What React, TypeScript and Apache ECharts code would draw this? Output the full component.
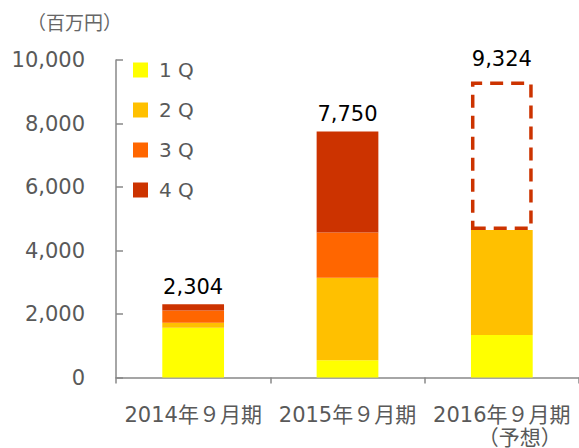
import React, { useEffect, useRef } from "react";
import * as echarts from "echarts";

const categories = ["2014年９月期", "2015年９月期", "2016年９月期"];
const q1 = [1567, 542, 1335];
const q2 = [157, 2601, 3313];
const q3 = [385, 1420, null];
const q4 = [195, 3187, null];
const totals = [2304, 7750, null];
const forecastTotal = 9324;
const forecastIndex = 2;
const seriesNames = ["1 Q", "2 Q", "3 Q", "4 Q"];
const colors = ["#FFFF00", "#FFC000", "#FF6600", "#CC3300"];
const yTicks = { min: 0, max: 10000, interval: 2000 };

const FONT = "'DejaVu Sans', 'Noto Sans CJK JP', sans-serif";
const GRAY = "#595959";

export default function App() {
  const ref = useRef<HTMLDivElement>(null);
  useEffect(() => {
    document.body.style.margin = "0";
    const chart = echarts.init(ref.current!, null, { renderer: "svg" });
    const base2016 = (q1[forecastIndex] || 0) + (q2[forecastIndex] || 0);
    const forecastRemainder = categories.map((_, i) =>
      i === forecastIndex ? forecastTotal - base2016 : null
    );
    const quarterData = [q1, q2, q3, q4];
    const series: any[] = quarterData.map((d, k) => ({
      name: seriesNames[k],
      type: "bar",
      stack: "total",
      barWidth: "40%",
      data: d,
      itemStyle: { color: colors[k] },
      label:
        k === 3
          ? {
              show: true,
              position: "top",
              distance: 7,
              fontFamily: FONT,
              fontSize: 21,
              color: "#000",
              formatter: (p: any) =>
                totals[p.dataIndex] != null ? totals[p.dataIndex]!.toLocaleString("en-US") : "",
            }
          : { show: false },
    }));
    series.push({
      name: "forecast",
      type: "bar",
      stack: "total",
      barWidth: "40%",
      data: forecastRemainder,
      itemStyle: {
        color: "rgba(0,0,0,0)",
        borderColor: "#CC3300",
        borderWidth: 3.5,
        borderType: [13, 8],
      },
      label: {
        show: true,
        position: "top",
        distance: 12,
        fontFamily: FONT,
        fontSize: 21,
        color: "#000",
        formatter: () => forecastTotal.toLocaleString("en-US"),
      },
    });
    chart.setOption({
      animation: false,
      textStyle: { fontFamily: FONT },
      grid: { left: 116, right: 0, top: 60, bottom: 70, containLabel: false },
      legend: {
        data: seriesNames,
        orient: "vertical",
        left: 133,
        top: 60,
        padding: 0,
        itemWidth: 15,
        itemHeight: 15,
        itemGap: 20,
        icon: "rect",
        textStyle: {
          fontFamily: FONT,
          fontSize: 20,
          color: GRAY,
          lineHeight: 20,
          padding: [0, 0, 0, 6],
        },
      },
      xAxis: {
        type: "category",
        data: categories,
        axisLine: { lineStyle: { color: "#888", width: 1.5 } },
        axisTick: { show: true, length: 6, lineStyle: { color: "#888", width: 1.5 } },
        axisLabel: {
          margin: 26,
          interval: 0,
          formatter: (v: string, i: number) =>
            i === forecastIndex ? `{a|${v}}\n{b|（予想）}` : `{a|${v}}`,
          rich: {
            a: { fontFamily: FONT, fontSize: 21, color: GRAY, lineHeight: 22 },
            b: {
              fontFamily: FONT,
              fontSize: 21,
              color: GRAY,
              lineHeight: 24,
              padding: [0, 0, 0, 36],
            },
          },
        },
      },
      yAxis: {
        type: "value",
        min: yTicks.min,
        max: yTicks.max,
        interval: yTicks.interval,
        splitLine: { show: false },
        axisLine: { show: true, lineStyle: { color: "#888", width: 1.5 } },
        axisTick: { show: true, inside: true, length: 7, lineStyle: { color: "#888", width: 1.5 } },
        axisLabel: {
          margin: 31,
          fontFamily: FONT,
          fontSize: 21,
          color: GRAY,
          formatter: (v: number) => v.toLocaleString("en-US"),
        },
      },
      graphic: [
        {
          type: "text",
          left: 27,
          top: 13,
          style: { text: "（百万円）", fontFamily: FONT, fontSize: 19, fill: "#666" },
        },
      ],
      series,
    });
    return () => chart.dispose();
  }, []);
  return <div ref={ref} style={{ width: 579, height: 448 }} />;
}
